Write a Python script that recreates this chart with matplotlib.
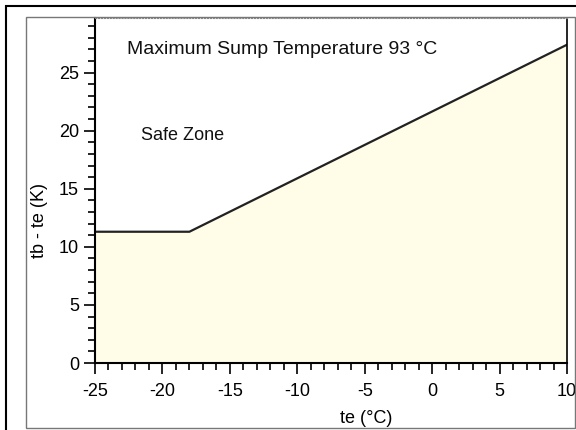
import numpy as np
import matplotlib.pyplot as plt
from matplotlib.patches import Rectangle
from matplotlib.ticker import MultipleLocator

plt.rcParams['font.family'] = ['Liberation Sans', 'DejaVu Sans']
plt.rcParams['axes.unicode_minus'] = False

# boundary of the safe zone
te = [-25, -18, 10]
dt = [11.3, 11.3, 27.4]

xticks = [-25, -20, -15, -10, -5, 0, 5, 10]
yticks = [0, 5, 10, 15, 20, 25]

fig = plt.figure(figsize=(5.76, 4.30), dpi=100)

# frames round the chart
fig.patches.append(Rectangle((6 / 576, -0.01), 1.0, 1 - 6 / 430 + 0.01,
                             transform=fig.transFigure, fill=False,
                             edgecolor='black', linewidth=1.5))
fig.patches.append(Rectangle((26 / 576, 2 / 430), 549 / 576, 411 / 430,
                             transform=fig.transFigure, fill=False,
                             edgecolor='#777777', linewidth=1.0, zorder=5))

ax = fig.add_axes([95 / 576, 1 - 363 / 430, 472 / 576, 345 / 430])

ax.fill_between(te, 0, dt, color='#fffde8', zorder=1)
ax.plot(te, dt, color='#222222', linewidth=1.6, zorder=2)

ax.set_xlim(-25, 10)
ax.set_ylim(0, 29.7)
ax.set_xticks(xticks)
ax.set_yticks(yticks)
ax.xaxis.set_minor_locator(MultipleLocator(1))
ax.yaxis.set_minor_locator(MultipleLocator(1))
ax.tick_params(which='major', direction='out', length=8, width=1.2,
               labelsize=13)
ax.tick_params(axis='x', which='major', pad=6.5)
ax.tick_params(axis='y', which='major', pad=3.6)
ax.tick_params(which='minor', direction='out', length=5, width=1.2)

ax.spines['left'].set_linewidth(1.5)
ax.spines['bottom'].set_linewidth(1.5)
ax.spines['right'].set_linewidth(1.2)
ax.spines['top'].set_linestyle(':')
ax.spines['top'].set_color('#888888')

ax.set_xlabel('te (°C)', fontsize=13)
ax.set_ylabel('tb - te (K)', fontsize=13)
ax.xaxis.set_label_coords(0.574, -0.137)
ax.yaxis.set_label_coords(-0.100, 0.414)

ax.text(-22.6, 27.0, 'Maximum Sump Temperature 93 °C', fontsize=14,
        va='center', color='#111111')
ax.text(-21.6, 19.6, 'Safe Zone', fontsize=13, va='center', color='#111111')

fig.savefig('out.png', dpi=100)
